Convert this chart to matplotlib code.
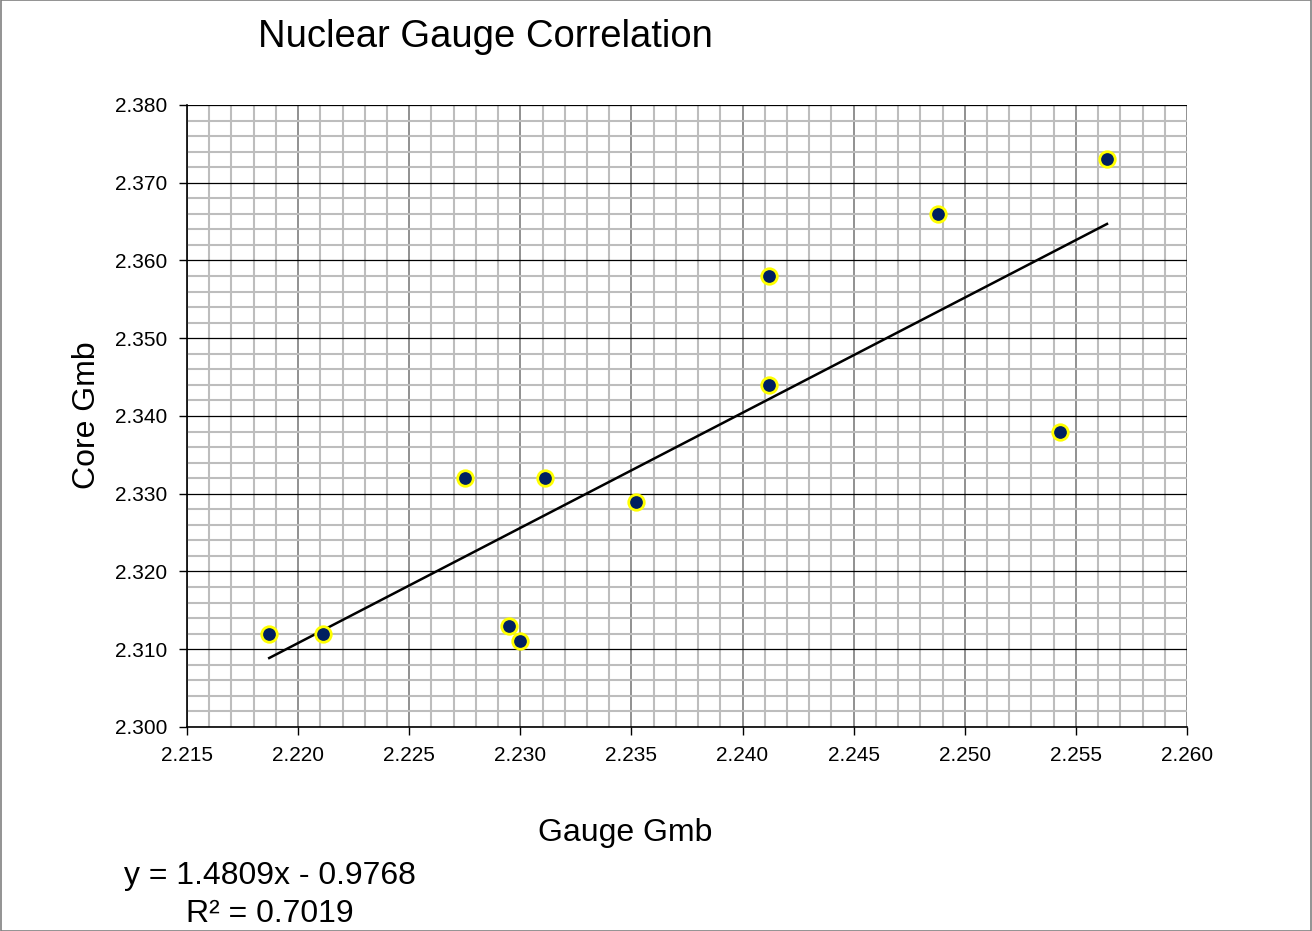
import numpy as np
import matplotlib
matplotlib.use('Agg')
from matplotlib import pyplot as plt
from matplotlib.ticker import MultipleLocator, FormatStrFormatter
from matplotlib.patches import Rectangle

# readings
gauge_gmb = [2.2187, 2.2211, 2.2275, 2.2311, 2.2295, 2.2300,
             2.2352, 2.2412, 2.2412, 2.2488, 2.2543, 2.2564]
core_gmb = [2.312, 2.312, 2.332, 2.332, 2.313, 2.311,
            2.329, 2.358, 2.344, 2.366, 2.338, 2.373]
slope = 1.4809
intercept = -0.9768
r_squared = 0.7019

plt.rcParams['font.family'] = ['Liberation Sans', 'DejaVu Sans']

fig = plt.figure(figsize=(13.12, 9.31), dpi=100)
ax = fig.add_axes([187/1312, 1-727/931, 1000/1312, 622/931])

ax.set_xlim(2.215, 2.260)
ax.set_ylim(2.300, 2.380)
ax.xaxis.set_major_locator(MultipleLocator(0.005))
ax.xaxis.set_minor_locator(MultipleLocator(0.001))
ax.yaxis.set_major_locator(MultipleLocator(0.010))
ax.yaxis.set_minor_locator(MultipleLocator(0.002))
ax.xaxis.set_major_formatter(FormatStrFormatter('%.3f'))
ax.yaxis.set_major_formatter(FormatStrFormatter('%.3f'))

ax.grid(which='minor', axis='both', color='#bdbdbd', lw=1.5, zorder=0)
ax.grid(which='major', axis='x', color='#888888', lw=1.3, zorder=0)
ax.grid(which='major', axis='y', color='black', lw=0.9, zorder=0)
ax.set_axisbelow(True)

for s in ['top', 'right']:
    ax.spines[s].set_visible(False)
for s in ['left', 'bottom']:
    ax.spines[s].set_color('black')
    ax.spines[s].set_linewidth(1.2)

ax.tick_params(which='major', direction='out', length=6, width=1, labelsize=15, pad=8)
ax.tick_params(which='minor', length=0)

# trend line
xs = np.array([min(gauge_gmb), max(gauge_gmb)])
ax.plot(xs, slope*xs + intercept, c='black', lw=1.8, zorder=3)

ax.scatter(gauge_gmb, core_gmb, s=125, c='#002060', edgecolors='#ffff00',
           linewidths=2, zorder=4, clip_on=False)

fig.text(485/1312, 1-37/931, 'Nuclear Gauge Correlation', fontsize=27.5,
         ha='center', va='center')
fig.text(87/1312, 1-415/931, 'Core Gmb', fontsize=23, rotation=90,
         ha='center', va='center')
fig.text(625/1312, 1-833/931, 'Gauge Gmb', fontsize=23, ha='center', va='center')
fig.text(270/1312, 1-895/931,
         'y = %.4fx - %.4f\nR² = %.4f' % (slope, -intercept, r_squared),
         fontsize=23, ha='center', va='center', linespacing=1.35)

fig.patches.append(Rectangle((0.0005, 0.0005), 0.999, 0.999, transform=fig.transFigure,
                             fill=False, edgecolor='#808080', lw=1.2))

fig.savefig('out.png', dpi=100)
